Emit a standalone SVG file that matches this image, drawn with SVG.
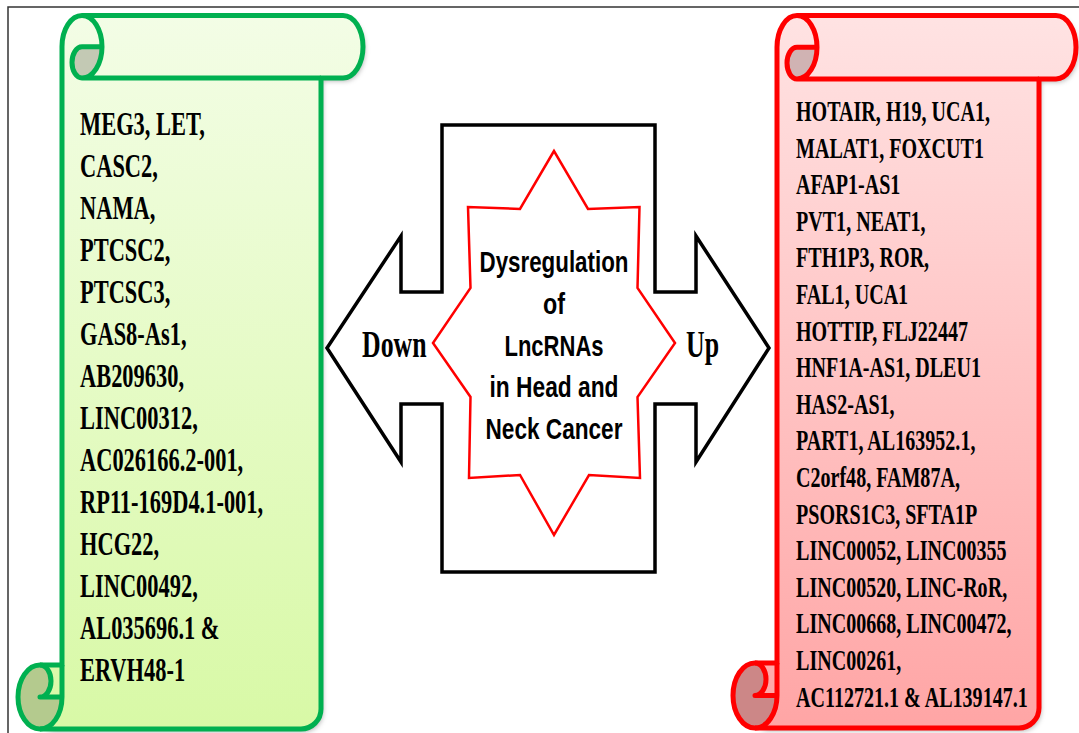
<svg xmlns="http://www.w3.org/2000/svg" width="1079" height="733" viewBox="0 0 1079 733">
<defs>
<linearGradient id="gGreen" x1="0" y1="15" x2="0" y2="729" gradientUnits="userSpaceOnUse">
<stop offset="0" stop-color="#f3fde6"/>
<stop offset="1" stop-color="#d8f9a6"/>
</linearGradient>
<linearGradient id="gRed" x1="0" y1="15" x2="0" y2="729" gradientUnits="userSpaceOnUse">
<stop offset="0" stop-color="#ffe3e3"/>
<stop offset="1" stop-color="#ffa5a5"/>
</linearGradient>
<filter id="shadow" x="-10%" y="-10%" width="120%" height="120%">
<feDropShadow dx="2" dy="3" stdDeviation="2.5" flood-color="#000" flood-opacity="0.3"/>
</filter>
</defs>
<style>
.gstroke{fill:none;stroke:#00b050;stroke-width:5;stroke-linejoin:round}
.rstroke{fill:none;stroke:#ff0000;stroke-width:5;stroke-linejoin:round}
.list{font-family:"Liberation Serif","Times New Roman",serif;font-weight:bold;fill:#000}
.lg{font-size:33px}
.lr{font-size:29.5px}
.star{font-family:"Liberation Sans",Arial,sans-serif;font-weight:bold;font-size:29px;text-anchor:middle;fill:#000}
.dir{font-family:"Liberation Serif","Times New Roman",serif;font-weight:bold;font-size:38px;fill:#000}
</style>
<rect width="1079" height="733" fill="#fff"/>
<path d="M8,733 V7 H1079" fill="none" stroke="#333" stroke-width="1.5"/>

<g id="down-scroll">
<path filter="url(#shadow)" fill="url(#gGreen)" d="M40,729 A22,32 0 0 0 62,697 L40,697 A11,16 0 0 0 40,665 L62,665 L62,46.5 A20,31 0 0 1 82,15.5 L343,15.5 A20,31.25 0 0 1 343,78 L321,78 L321,709 A20,20 0 0 1 301,729 Z"/>
<path fill="#c3c9b4" d="M102,46.75 A20,31.25 0 0 1 82,78 A10,15.6 0 0 1 82,46.8 Z"/>
<path fill="#b4ca8e" d="M62,697 A22,32 0 1 1 40,665 A11,16 0 0 1 40,697 Z"/>
<path class="gstroke" d="M62,665 L62,46.5 A20,31 0 0 1 82,15.5 L343,15.5 A20,31.25 0 0 1 343,78 L321,78 L321,709 A20,20 0 0 1 301,729 L40,729 A22,32 0 0 1 40,665 Z"/>
<path class="gstroke" d="M82,15.5 A20,31.25 0 0 1 82,78 A10,15.6 0 0 1 82,46.8 L102,46.8 M321,78 L82,78 M40,665 A11,16 0 0 1 40,697 L62,697 M40,729 A22,32 0 0 0 62,697 L62,665"/>
<g transform="translate(80 0) scale(0.68 1)" class="list lg">
<text x="0" y="135">MEG3, LET,</text>
<text x="0" y="177">CASC2,</text>
<text x="0" y="219">NAMA,</text>
<text x="0" y="261">PTCSC2,</text>
<text x="0" y="303">PTCSC3,</text>
<text x="0" y="345">GAS8-As1,</text>
<text x="0" y="387">AB209630,</text>
<text x="0" y="429">LINC00312,</text>
<text x="0" y="471">AC026166.2-001,</text>
<text x="0" y="513">RP11-169D4.1-001,</text>
<text x="0" y="555">HCG22,</text>
<text x="0" y="597">LINC00492,</text>
<text x="0" y="639">AL035696.1 &amp;</text>
<text x="0" y="681">ERVH48-1</text>
</g>
</g>

<g id="up-scroll">
<path filter="url(#shadow)" fill="url(#gRed)" d="M755,728 A22,32.5 0 0 0 777,695.5 L755,695.5 A11,16.25 0 0 0 755,663 L777,663 L777,47.25 A20,31.75 0 0 1 797,15.5 L1056,15.5 A20,31.75 0 0 1 1056,79 L1039,79 L1039,708 A20,20 0 0 1 1019,728 Z"/>
<path fill="#d0b3b3" d="M817,47.25 A20,31.75 0 0 1 797,79 A10,15.9 0 0 1 797,47.2 Z"/>
<path fill="#cc8787" d="M777,695.5 A22,32.5 0 1 1 755,663 A11,16.25 0 0 1 755,695.5 Z"/>
<path class="rstroke" d="M777,663 L777,47.25 A20,31.75 0 0 1 797,15.5 L1056,15.5 A20,31.75 0 0 1 1056,79 L1039,79 L1039,708 A20,20 0 0 1 1019,728 L755,728 A22,32.5 0 0 1 755,663 Z"/>
<path class="rstroke" d="M797,15.5 A20,31.75 0 0 1 797,79 A10,15.9 0 0 1 797,47.2 L817,47.2 M1039,79 L797,79 M755,663 A11,16.25 0 0 1 755,695.5 L777,695.5 M755,728 A22,32.5 0 0 0 777,695.5 L777,663"/>
<g transform="translate(796 0) scale(0.68 1)" class="list lr">
<text x="0" y="121">HOTAIR, H19, UCA1,</text>
<text x="0" y="157.6">MALAT1, FOXCUT1</text>
<text x="0" y="194.2">AFAP1-AS1</text>
<text x="0" y="230.8">PVT1, NEAT1,</text>
<text x="0" y="267.4">FTH1P3, ROR,</text>
<text x="0" y="304">FAL1, UCA1</text>
<text x="0" y="340.6">HOTTIP, FLJ22447</text>
<text x="0" y="377.2">HNF1A-AS1, DLEU1</text>
<text x="0" y="413.8">HAS2-AS1,</text>
<text x="0" y="450.4">PART1, AL163952.1,</text>
<text x="0" y="487">C2orf48, FAM87A,</text>
<text x="0" y="523.6">PSORS1C3, SFTA1P</text>
<text x="0" y="560.2">LINC00052, LINC00355</text>
<text x="0" y="596.8">LINC00520, LINC-RoR,</text>
<text x="0" y="633.4">LINC00668, LINC00472,</text>
<text x="0" y="670">LINC00261,</text>
<text x="0" y="706.6">AC112721.1 &amp; AL139147.1</text>
</g>
</g>

<g id="cross-arrow">
<path d="M442,125 L655,125 L655,292 L696,292 L696,236 L769,348 L696,462 L696,404 L655,404 L655,572 L442,572 L442,404 L401,404 L401,462 L327,348 L401,236 L401,292 L442,292 Z" fill="#fff" stroke="#000" stroke-width="3.5" stroke-linejoin="miter"/>
<g transform="translate(362 0) scale(0.68 1)"><text class="dir" x="0" y="357">Down</text></g>
<g transform="translate(686 0) scale(0.68 1)"><text class="dir" x="0" y="357">Up</text></g>
</g>

<g id="center-star">
<path d="M554,151 L520,209 L468,207 L470.5,288 L433,343 L470.5,397 L469,478 L520,475 L554,535 L589,475 L640,478 L637.5,397 L675,343 L637.5,288 L639.5,207 L588,209 Z" fill="#fff" stroke="#ff0000" stroke-width="2.5" stroke-linejoin="miter"/>
<text class="star" x="554" y="272" textLength="149" lengthAdjust="spacingAndGlyphs">Dysregulation</text>
<text class="star" x="554" y="313.5" textLength="22" lengthAdjust="spacingAndGlyphs">of</text>
<text class="star" x="554" y="355.5" textLength="99" lengthAdjust="spacingAndGlyphs">LncRNAs</text>
<text class="star" x="554" y="397" textLength="129" lengthAdjust="spacingAndGlyphs">in Head and</text>
<text class="star" x="554" y="438.5" textLength="137" lengthAdjust="spacingAndGlyphs">Neck Cancer</text>
</g>
</svg>
